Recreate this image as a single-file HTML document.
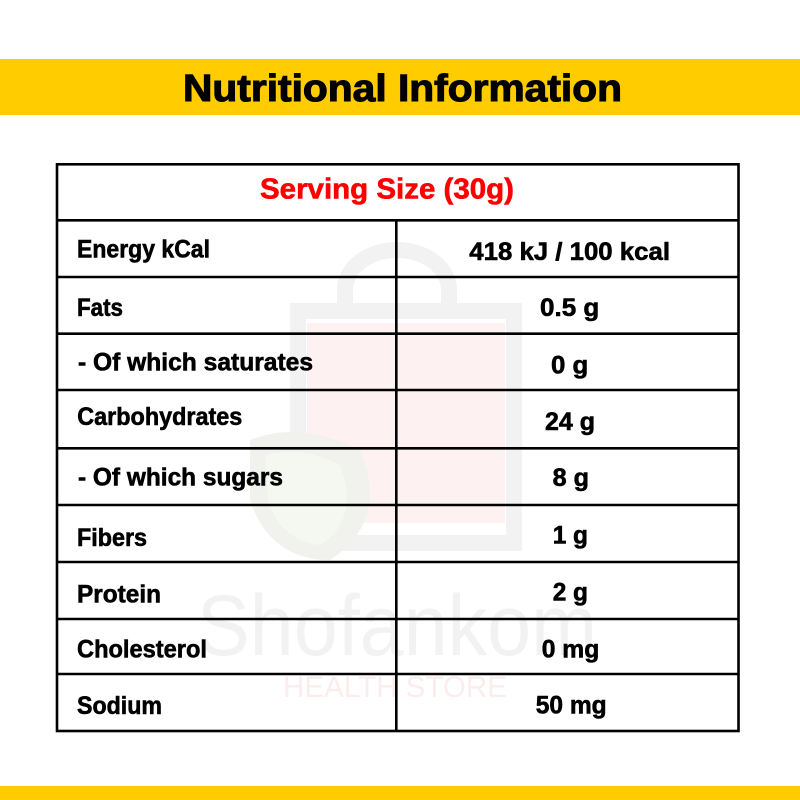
<!DOCTYPE html>
<html>
<head>
<meta charset="utf-8">
<style>
html,body{margin:0;padding:0;background:#fff;}
svg{display:block;}
text{font-family:"Liberation Sans","DejaVu Sans",sans-serif;font-weight:bold;}
</style>
</head>
<body>
<svg width="800" height="800" viewBox="0 0 800 800" xmlns="http://www.w3.org/2000/svg">
  <rect x="0" y="0" width="800" height="800" fill="#ffffff"/>
  <!-- top band -->
  <rect x="0" y="59" width="800" height="56" fill="#ffcc00"/>
  <text x="183" y="101" font-size="38" fill="#000" stroke="#000" stroke-width="1.1" textLength="439" lengthAdjust="spacingAndGlyphs">Nutritional Information</text>
  <!-- bottom band -->
  <rect x="0" y="786" width="800" height="14" fill="#ffcc00"/>

  <!-- watermark -->
  <g>
    <path d="M345 305 L345 290 A52 40 0 0 1 449 290 L449 305" fill="none" stroke="#f2f2f2" stroke-width="16"/>
    <rect x="298" y="311" width="216" height="232" fill="none" stroke="#f2f2f2" stroke-width="16"/>
    <rect x="307" y="323" width="198" height="200" fill="#fdf1f1"/>
    <path d="M250 440 Q300 420 360 450 Q390 520 330 560 Q270 560 250 500 Z" fill="#f1f2ee"/>
    <path d="M265 455 Q300 445 340 465 Q360 520 320 545 Q280 540 268 500 Z" fill="#f5f8f0"/>
    <text x="197" y="655" font-size="86" fill="#f2f2f2" style="font-weight:normal" textLength="400" lengthAdjust="spacingAndGlyphs">Shofankom</text>
    <text x="283" y="697" font-size="30" fill="#fceded" style="font-weight:normal" textLength="224" lengthAdjust="spacingAndGlyphs">HEALTH STORE</text>
  </g>

  <!-- table grid -->
  <g stroke="#000" stroke-width="2.6" fill="none">
    <rect x="57" y="164.3" width="681.5" height="566.7"/>
    <line x1="57" y1="220.3" x2="738.5" y2="220.3"/>
    <line x1="57" y1="277" x2="738.5" y2="277"/>
    <line x1="57" y1="333.7" x2="738.5" y2="333.7"/>
    <line x1="57" y1="390" x2="738.5" y2="390"/>
    <line x1="57" y1="448.3" x2="738.5" y2="448.3"/>
    <line x1="57" y1="505" x2="738.5" y2="505"/>
    <line x1="57" y1="562" x2="738.5" y2="562"/>
    <line x1="57" y1="619" x2="738.5" y2="619"/>
    <line x1="57" y1="674" x2="738.5" y2="674"/>
    <line x1="396.3" y1="220.3" x2="396.3" y2="731"/>
  </g>

  <!-- header -->
  <text x="260" y="198.5" font-size="28.5" fill="#ff0000" stroke="#ff0000" stroke-width="0.6" textLength="254" lengthAdjust="spacingAndGlyphs">Serving Size (30g)</text>

  <!-- labels -->
  <g font-size="25" fill="#000" stroke="#000" stroke-width="0.6">
    <text x="77" y="257.3" textLength="133" lengthAdjust="spacingAndGlyphs">Energy kCal</text>
    <text x="77" y="316" textLength="46" lengthAdjust="spacingAndGlyphs">Fats</text>
    <text x="78" y="370.7" textLength="235" lengthAdjust="spacingAndGlyphs">- Of which saturates</text>
    <text x="77.3" y="425" textLength="165" lengthAdjust="spacingAndGlyphs">Carbohydrates</text>
    <text x="78" y="485.7" textLength="205" lengthAdjust="spacingAndGlyphs">- Of which sugars</text>
    <text x="77" y="546" textLength="70" lengthAdjust="spacingAndGlyphs">Fibers</text>
    <text x="77" y="602.3" textLength="84" lengthAdjust="spacingAndGlyphs">Protein</text>
    <text x="77" y="657.3" textLength="130" lengthAdjust="spacingAndGlyphs">Cholesterol</text>
    <text x="77" y="714" textLength="85" lengthAdjust="spacingAndGlyphs">Sodium</text>
  </g>

  <!-- values -->
  <g font-size="25" fill="#000" stroke="#000" stroke-width="0.6">
    <text x="469.3" y="260" textLength="200.7" lengthAdjust="spacingAndGlyphs">418 kJ / 100 kcal</text>
    <text x="540" y="316" textLength="59.3" lengthAdjust="spacingAndGlyphs">0.5 g</text>
    <text x="551" y="373.3" textLength="37.3" lengthAdjust="spacingAndGlyphs">0 g</text>
    <text x="545" y="430" textLength="50" lengthAdjust="spacingAndGlyphs">24 g</text>
    <text x="552.7" y="486" textLength="36.3" lengthAdjust="spacingAndGlyphs">8 g</text>
    <text x="552.7" y="543.3" textLength="35.3" lengthAdjust="spacingAndGlyphs">1 g</text>
    <text x="552.7" y="600.7" textLength="35.3" lengthAdjust="spacingAndGlyphs">2 g</text>
    <text x="541.7" y="657.7" textLength="57.6" lengthAdjust="spacingAndGlyphs">0 mg</text>
    <text x="535.7" y="713.5" textLength="71" lengthAdjust="spacingAndGlyphs">50 mg</text>
  </g>
</svg>
</body>
</html>
